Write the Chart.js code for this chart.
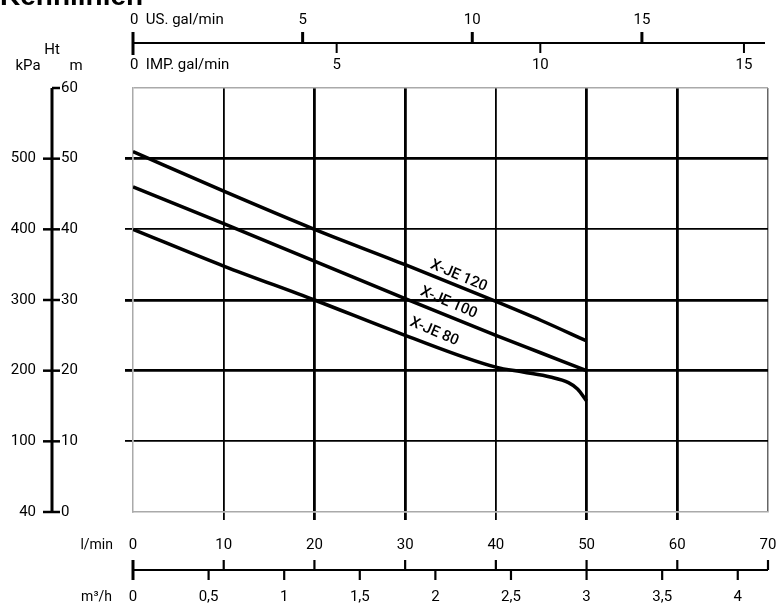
<!DOCTYPE html>
<html>
<head>
<meta charset="utf-8">
<script src="https://cdn.jsdelivr.net/npm/chart.js@4/dist/chart.umd.min.js"></script>
<style>
  body { margin: 0; background: #fff; }
  #wrap { width: 776px; height: 606px; }
</style>
</head>
<body>
<div id="wrap"><canvas id="myChart" width="776" height="606"></canvas></div>
<script>
// Kurven (Förderstrom l/min -> Förderhöhe m)
const flow120 = [0, 10, 20, 30, 40, 45, 50];
const head120 = [51, 45.4, 40, 35, 29.8, 27.1, 24.2];
const flow100 = [0, 10, 20, 30, 40, 45, 50];
const head100 = [46, 40.8, 35.5, 30.2, 25, 22.5, 20];
const flow80 = [0, 10, 20, 30, 40, 43, 46, 48, 49, 50];
const head80 = [40, 34.8, 30, 25, 20.5, 19.8, 19.1, 18.3, 17.4, 15.7];
const curveNames = ['X-JE 120', 'X-JE 100', 'X-JE 80'];

// Achsen
const lminTicks = [0, 10, 20, 30, 40, 50, 60, 70];
const m3hTicks = [0.5, 1, 1.5, 2, 2.5, 3, 3.5, 4];
const m3hLabels = ['0,5', '1', '1,5', '2', '2,5', '3', '3,5', '4'];
const usGalTicks = [5, 10, 15];
const impGalTicks = [5, 10, 15];
const mTicks = [0, 10, 20, 30, 40, 50, 60];
const kpaLabels = ['40', '100', '200', '300', '400', '500'];

const FONT = 'Roboto, "DejaVu Sans", sans-serif';

function pts(xs, ys) {
    return xs.map((x, i) => ({ x: x, y: ys[i] }));
}

const thickX = [20, 30, 50, 60];
const thickY = [20, 30, 50];

// Zusatzachsen und Beschriftungen
const extraAxes = {
    id: 'extraAxes',
    afterDraw(chart) {
        const c = chart.ctx;
        const xs = chart.scales.x, ys = chart.scales.y;
        const left = chart.chartArea.left, right = chart.chartArea.right;
        c.save();
        c.fillStyle = '#000';
        c.strokeStyle = '#000';

        // Titel (abgeschnitten)
        c.font = 'bold 28px "Liberation Sans", Arial, sans-serif';
        c.textBaseline = 'alphabetic';
        c.textAlign = 'left';
        c.fillText('Kennlinien', 0, 5);
        c.textBaseline = 'middle';

        c.font = '15px ' + FONT;
        // obere Achse gal/min
        const yTop = 43;
        c.lineWidth = 2;
        c.beginPath(); c.moveTo(left, yTop); c.lineTo(right - 3, yTop); c.stroke();
        c.lineWidth = 3;
        c.beginPath(); c.moveTo(left, 32); c.lineTo(left, 55); c.stroke();
        c.textAlign = 'left';
        c.fillText('0  US. gal/min', left - 3, 20);
        c.fillText('0  IMP. gal/min', left - 3, 65);
        c.textAlign = 'center';
        usGalTicks.forEach(v => {
            const px = xs.getPixelForValue(v * 3.74);
            c.lineWidth = 3;
            c.beginPath(); c.moveTo(px, yTop); c.lineTo(px, 32); c.stroke();
            c.fillText(String(v), px, 20);
        });
        impGalTicks.forEach(v => {
            const px = xs.getPixelForValue(v * 4.49);
            c.lineWidth = 2;
            c.beginPath(); c.moveTo(px, yTop); c.lineTo(px, 53); c.stroke();
            c.fillText(String(v), px, 65);
        });

        // linke Achse m / kPa
        const ax = 52;
        c.lineWidth = 3;
        c.beginPath(); c.moveTo(ax, ys.getPixelForValue(60)); c.lineTo(ax, ys.getPixelForValue(0)); c.stroke();
        mTicks.forEach((v, i) => {
            const py = ys.getPixelForValue(v);
            c.lineWidth = 2.5;
            c.beginPath();
            c.moveTo(v === 60 ? ax : ax - 9, py);
            c.lineTo(ax + 8, py);
            c.stroke();
            c.textAlign = 'left';
            c.fillText(String(v), ax + 9, py);
            if (i < kpaLabels.length) {
                c.textAlign = 'right';
                c.fillText(kpaLabels[i], 36, py);
            }
        });
        c.textAlign = 'center';
        c.fillText('Ht', 52, 50);
        c.fillText('kPa', 28, 66);
        c.fillText('m', 76, 66);

        // untere Achsen l/min und m³/h
        const yb = 570;
        c.lineWidth = 2;
        c.beginPath(); c.moveTo(left, yb); c.lineTo(right, yb); c.stroke();
        c.lineWidth = 3;
        c.beginPath(); c.moveTo(left, 560); c.lineTo(left, 580); c.stroke();
        lminTicks.forEach(v => {
            const px = xs.getPixelForValue(v);
            c.lineWidth = 2.2;
            if (v > 0) { c.beginPath(); c.moveTo(px, yb); c.lineTo(px, 560); c.stroke(); }
            c.textAlign = 'center';
            c.fillText(String(v), px, 545);
        });
        c.fillText('0', left, 597);
        m3hTicks.forEach((v, i) => {
            const px = xs.getPixelForValue(v * 1000 / 60);
            c.lineWidth = 2.2;
            c.beginPath(); c.moveTo(px, yb); c.lineTo(px, 580); c.stroke();
            c.fillText(m3hLabels[i], px, 597);
        });
        c.font = '14px ' + FONT;
        c.textAlign = 'right';
        c.fillText('l/min', 113, 545);
        c.fillText('m³/h', 112, 597);

        // Kurvenbeschriftungen
        const lab = [[35.9, 33.4], [34.8, 29.6], [33.2, 25.5]];
        c.font = '500 15px ' + FONT;
        c.textAlign = 'center';
        lab.forEach((p, i) => {
            c.save();
            c.translate(xs.getPixelForValue(p[0]), ys.getPixelForValue(p[1]));
            c.rotate(23 * Math.PI / 180);
            c.fillText(curveNames[i], 0, 0);
            c.restore();
        });
        c.restore();
    }
};

const lineStyle = {
    borderColor: '#000',
    borderWidth: 3.5,
    pointRadius: 0,
    fill: false,
    cubicInterpolationMode: 'monotone'
};

const config = {
    type: 'line',
    data: {
        datasets: [
            Object.assign({ label: curveNames[0], data: pts(flow120, head120) }, lineStyle),
            Object.assign({ label: curveNames[1], data: pts(flow100, head100) }, lineStyle),
            Object.assign({ label: curveNames[2], data: pts(flow80, head80) }, lineStyle)
        ]
    },
    options: {
        responsive: false,
        animation: false,
        layout: { padding: { left: 125, top: 88, right: 8, bottom: 86 } },
        plugins: { legend: { display: false }, tooltip: { enabled: false } },
        scales: {
            x: {
                type: 'linear', min: 0, max: 70,
                ticks: { display: false, stepSize: 10 },
                border: { display: true, color: '#aaa', width: 1.5 },
                grid: {
                    drawTicks: true, tickLength: 8,
                    color: ctx => ctx.tick.value === 0 ? 'rgba(0,0,0,0)' : (ctx.tick.value === 70 ? '#666' : '#000'),
                    tickColor: ctx => (ctx.tick.value === 0 || ctx.tick.value === 70) ? 'rgba(0,0,0,0)' : '#000',
                    lineWidth: ctx => ctx.tick.value === 70 ? 1.5 : (thickX.includes(ctx.tick.value) ? 2.8 : 1.8)
                }
            },
            y: {
                min: 0, max: 60,
                ticks: { display: false, stepSize: 10 },
                border: { display: true, color: '#aaa', width: 1.5 },
                grid: {
                    drawTicks: true, tickLength: 8,
                    color: ctx => ctx.tick.value === 0 ? 'rgba(0,0,0,0)' : (ctx.tick.value === 60 ? '#aaa' : '#000'),
                    tickColor: ctx => (ctx.tick.value === 0 || ctx.tick.value === 60) ? 'rgba(0,0,0,0)' : '#000',
                    lineWidth: ctx => ctx.tick.value === 60 ? 1.5 : (thickY.includes(ctx.tick.value) ? 2.8 : 1.8)
                }
            }
        }
    },
    plugins: [extraAxes]
};

var myChart = new Chart(document.getElementById('myChart'), config);
</script>
</body>
</html>
